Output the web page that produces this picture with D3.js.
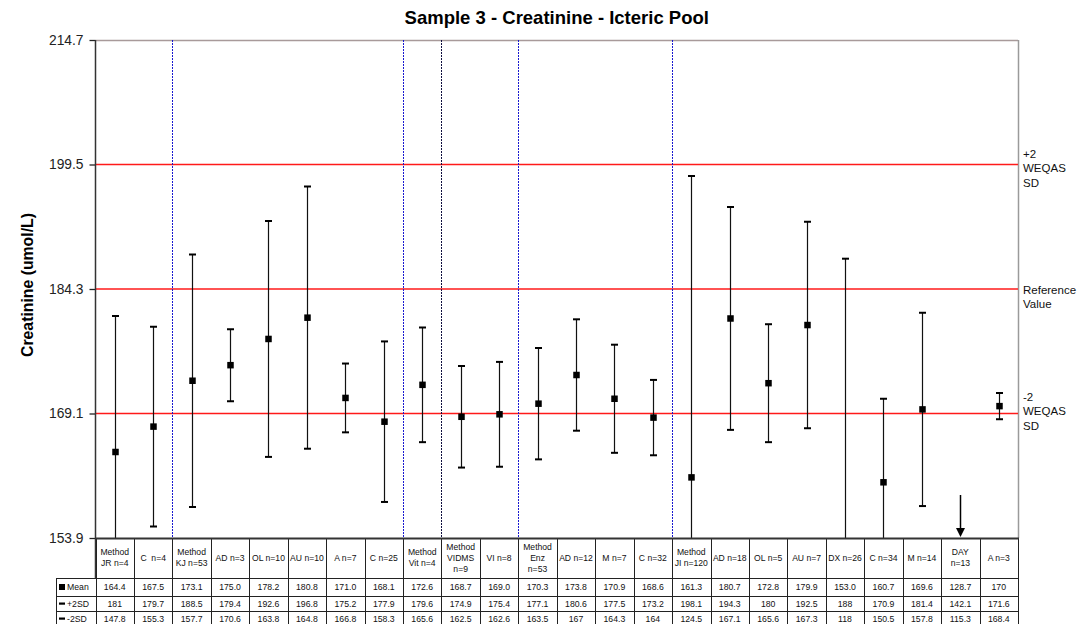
<!DOCTYPE html>
<html><head><meta charset="utf-8">
<script src="https://cdn.jsdelivr.net/npm/d3@7"></script>
<style>
body{margin:0;background:#fff;}
svg{display:block;font-family:"Liberation Sans",Arial,sans-serif;}
.pre{white-space:pre;}
</style>
</head><body>
<svg id="chart" width="1082" height="624"></svg>
<script>
// Method / instrument groups with participant counts
const categories = ["Method\nJR n=4","C  n=4","Method\nKJ n=53","AD n=3","OL n=10","AU n=10","A n=7","C n=25",
  "Method\nVit n=4","Method\nVIDMS\nn=9","VI n=8","Method\nEnz\nn=53","AD n=12","M n=7","C n=32",
  "Method\nJI n=120","AD n=18","OL n=5","AU n=7","DX n=26","C n=34","M n=14","DAY\nn=13","A n=3"];
const meanValues = ["164.4","167.5","173.1","175.0","178.2","180.8","171.0","168.1","172.6","168.7","169.0","170.3",
  "173.8","170.9","168.6","161.3","180.7","172.8","179.9","153.0","160.7","169.6","128.7","170"];
const plus2SD = ["181","179.7","188.5","179.4","192.6","196.8","175.2","177.9","179.6","174.9","175.4","177.1",
  "180.6","177.5","173.2","198.1","194.3","180","192.5","188","170.9","181.4","142.1","171.6"];
const minus2SD = ["147.8","155.3","157.7","170.6","163.8","164.8","166.8","158.3","165.6","162.5","162.6","163.5",
  "167","164.3","164","124.5","167.1","165.6","167.3","118","150.5","157.8","115.3","168.4"];
const yTicks = [153.9, 169.1, 184.3, 199.5, 214.7];
// WEQAS target lines
const refValues = [199.5, 184.3, 169.1];
const refLabels = [["+2","WEQAS","SD"], ["Reference","Value"], ["-2","WEQAS","SD"]];
// last column of each method block (a dotted divider follows it)
const groupEnds = [1, 7, 8, 10, 14];
const rowNames = ["Mean", "+2SD", "-2SD"];

const svg = d3.select("#chart");
const pLeft = 95.5, pRight = 1018, pTop = 40, pBottom = 538;
const nCat = categories.length;

const x = d3.scaleBand().domain(d3.range(nCat)).range([pLeft, pRight]);
const y = d3.scaleLinear().domain([yTicks[0], yTicks[yTicks.length - 1]]).range([pBottom, pTop]);
const [yMin, yMax] = y.domain();
const cx = i => Math.round(x(i) + x.bandwidth() / 2) + 0.5;
const colEdge = i => Math.round(i < nCat ? x(i) : pRight) + 0.5;

// title
svg.append("text").attr("x", (pLeft + pRight) / 2).attr("y", 24)
  .attr("text-anchor", "middle").attr("font-size", 18.5).attr("font-weight", "bold")
  .text("Sample 3 - Creatinine - Icteric Pool");

// y-axis title
svg.append("text").attr("transform", "translate(33,285) rotate(-90)")
  .attr("text-anchor", "middle").attr("font-size", 15.8).attr("font-weight", "bold")
  .text("Creatinine (umol/L)");

// plot frame: top and right edges
svg.append("line").attr("x1", pLeft).attr("x2", pRight).attr("y1", pTop + 0.5).attr("y2", pTop + 0.5)
  .attr("stroke", "#a89a9a").attr("stroke-width", 1.5);
svg.append("line").attr("x1", pRight + 0.5).attr("x2", pRight + 0.5).attr("y1", pTop).attr("y2", pBottom)
  .attr("stroke", "#9a9a9a").attr("stroke-width", 1.5);

// reference lines
svg.append("g").selectAll("line").data(refValues).join("line")
  .attr("x1", pLeft).attr("x2", pRight).attr("y1", d => y(d)).attr("y2", d => y(d))
  .attr("stroke", "#ff1a1a").attr("stroke-width", 1.3);

const labelShift = [-11, 0.5, -17];
refLabels.forEach((lines, k) => {
  const t = svg.append("text").attr("font-size", 11.5).attr("fill", "#111");
  lines.forEach((s, j) => {
    t.append("tspan").attr("x", pRight + 5).attr("y", y(refValues[k]) + labelShift[k] + j * 14.7)
      .attr("dy", "0.35em").text(s);
  });
});

// dotted dividers between method blocks
svg.append("g").selectAll("line").data(groupEnds).join("line")
  .attr("x1", d => colEdge(d + 1)).attr("x2", d => colEdge(d + 1))
  .attr("y1", pTop).attr("y2", pBottom)
  .attr("stroke", d => d === 8 ? "#101040" : "#1a1ad0").attr("stroke-width", 1)
  .attr("stroke-dasharray", "2,1");

// y axis
const yAxis = svg.append("g").attr("transform", `translate(${pLeft},0)`)
  .call(d3.axisLeft(y).tickValues(yTicks).tickSize(6).tickPadding(6).tickFormat(d3.format(".1f")));
yAxis.select(".domain").remove();
yAxis.selectAll(".tick line").attr("stroke", "#222").attr("stroke-width", 1.3);
yAxis.selectAll(".tick text").attr("font-size", 13.8).attr("fill", "#222")
  .attr("font-family", "'Liberation Sans',Arial,sans-serif");
svg.append("line").attr("x1", pLeft).attr("x2", pLeft).attr("y1", pTop).attr("y2", pBottom + 40)
  .attr("stroke", "#333").attr("stroke-width", 1.5);

// error bars, clipped to the plot area
svg.append("clipPath").attr("id", "plotClip").append("rect")
  .attr("x", pLeft).attr("y", pTop).attr("width", pRight - pLeft).attr("height", pBottom - pTop);
const bars = svg.append("g").attr("clip-path", "url(#plotClip)");
const capW = 7;
categories.forEach((c, i) => {
  const m = +meanValues[i], hi = +plus2SD[i], lo = +minus2SD[i];
  const px = cx(i);
  if (hi < yMin) {
    // whole range below the scale: point an arrow at the axis
    svg.append("line").attr("x1", px).attr("x2", px).attr("y1", y(yMin) - 43).attr("y2", y(yMin) - 8)
      .attr("stroke", "#000").attr("stroke-width", 1.5);
    svg.append("path")
      .attr("d", `M${px - 4.5},${y(yMin) - 10}L${px + 4.5},${y(yMin) - 10}L${px},${y(yMin) - 1}Z`)
      .attr("fill", "#000");
    return;
  }
  bars.append("line").attr("x1", px).attr("x2", px)
    .attr("y1", y(Math.min(hi, yMax))).attr("y2", y(Math.max(lo, yMin)))
    .attr("stroke", "#111").attr("stroke-width", 1.2);
  [hi, lo].forEach(v => {
    if (v >= yMin && v <= yMax) {
      bars.append("line").attr("x1", px - capW / 2).attr("x2", px + capW / 2)
        .attr("y1", y(v)).attr("y2", y(v)).attr("stroke", "#000").attr("stroke-width", 2);
    }
  });
  if (m >= yMin && m <= yMax) {
    bars.append("rect").attr("x", px - 3.25).attr("y", y(m) - 3.25).attr("width", 6.5).attr("height", 6.5)
      .attr("fill", "#000");
  }
});

// data table
const rowY = [538, 578, 596, 611, 626];
const legendX = 56;
const table = svg.append("g").attr("fill", "none").attr("stroke", "#222").attr("stroke-width", 1);
d3.range(nCat + 1).forEach(i => {
  const xx = colEdge(i);
  table.append("line").attr("x1", xx).attr("x2", xx).attr("y1", rowY[0]).attr("y2", 624);
});
table.append("line").attr("x1", legendX + 0.5).attr("x2", legendX + 0.5).attr("y1", rowY[1]).attr("y2", 624);
rowY.slice(1, 4).forEach(r => {
  table.append("line").attr("x1", legendX).attr("x2", pRight + 1).attr("y1", r + 0.5).attr("y2", r + 0.5);
});
svg.append("line").attr("x1", pLeft).attr("x2", pRight + 1).attr("y1", pBottom + 0.5).attr("y2", pBottom + 0.5)
  .attr("stroke", "#333").attr("stroke-width", 1.8);

// column headers
categories.forEach((c, i) => {
  const lines = c.split("\n");
  const t = svg.append("text").attr("class", "pre").attr("text-anchor", "middle")
    .attr("font-size", 8.6).attr("fill", "#111");
  const mid = (rowY[0] + rowY[1]) / 2 - 0.5;
  lines.forEach((s, j) => {
    t.append("tspan").attr("x", x(i) + x.bandwidth() / 2)
      .attr("y", mid + (j - (lines.length - 1) / 2) * 11).attr("dy", "0.35em").text(s);
  });
});

// value rows
[meanValues, plus2SD, minus2SD].forEach((arr, r) => {
  const my = (rowY[r + 1] + rowY[r + 2]) / 2;
  svg.append("g").selectAll("text").data(arr).join("text")
    .attr("x", (d, i) => x(i) + x.bandwidth() / 2).attr("y", my).attr("dy", "0.35em")
    .attr("text-anchor", "middle").attr("font-size", 8.7).attr("fill", "#111").text(d => d);
  // legend keys
  if (r === 0) {
    svg.append("rect").attr("x", legendX + 3).attr("y", my - 3).attr("width", 6).attr("height", 6).attr("fill", "#000");
  } else {
    svg.append("rect").attr("x", legendX + 3).attr("y", my - 1).attr("width", 6).attr("height", 2.2).attr("fill", "#000");
  }
  svg.append("text").attr("x", legendX + 11).attr("y", my).attr("dy", "0.35em")
    .attr("font-size", 8.7).attr("fill", "#111").text(rowNames[r]);
});
</script>
</body></html>
